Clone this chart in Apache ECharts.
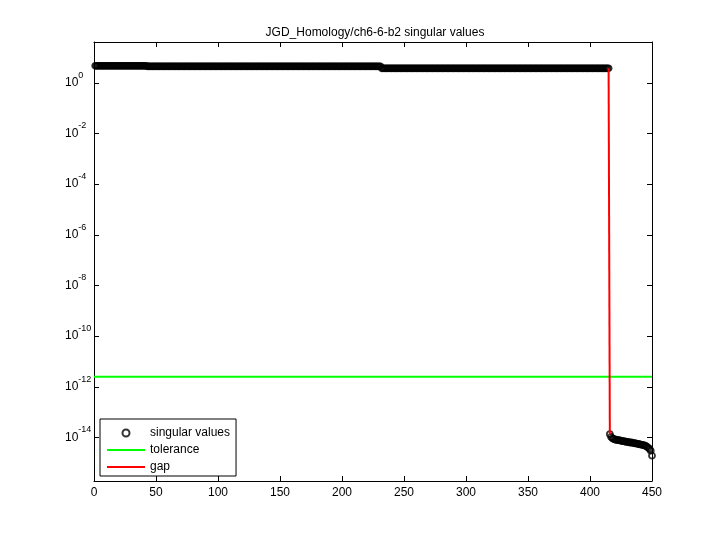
<!DOCTYPE html>
<html>
<head>
<meta charset="utf-8">
<script src="https://cdn.jsdelivr.net/npm/echarts@6/dist/echarts.min.js"></script>
<style>
  html, body { margin: 0; padding: 0; background: #fff; }
  #chart { width: 720px; height: 540px; }
</style>
</head>
<body>
<div id="chart"></div>
<script>
// large singular values: runs of [last index, value] (1-based index)
const plateauRuns = [
  [42, 4.69],
  [231, 4.45],
  [415, 3.71]
]
// small singular values, index 416..450
const tailStart = 416
const tailValues = [
  1.35e-14, 1.05e-14, 9.3e-15, 8.7e-15, 8.3e-15, 8.1e-15, 7.9e-15, 7.8e-15,
  7.6e-15, 7.4e-15, 7.2e-15, 7.1e-15, 6.9e-15, 6.8e-15, 6.6e-15, 6.5e-15,
  6.3e-15, 6.3e-15, 6.2e-15, 6.0e-15, 5.9e-15, 5.8e-15, 5.6e-15, 5.5e-15,
  5.4e-15, 5.2e-15, 5.1e-15, 5.0e-15, 4.8e-15, 4.6e-15, 4.3e-15, 3.9e-15,
  3.5e-15, 3.0e-15, 1.9e-15
]
const toleranceX = [0, 450]
const toleranceValue = 2.5e-12
const gapX = [415, 416]
const yTickExponents = [-14, -12, -10, -8, -6, -4, -2, 0]

const yMin = -15.72
const yMax = 1.61

// build [index, log10(value)] points
const svPoints = []
let idx = 1
plateauRuns.forEach(([last, v]) => {
  for (; idx <= last; idx++) svPoints.push([idx, Math.log10(v)])
})
tailValues.forEach((v, i) => svPoints.push([tailStart + i, Math.log10(v)]))

const tolPoints = toleranceX.map((x) => [x, Math.log10(toleranceValue)])
const gapPoints = [
  [gapX[0], Math.log10(plateauRuns[plateauRuns.length - 1][1])],
  [gapX[1], Math.log10(tailValues[0])]
]

const font = 'Liberation Sans, Arial, Helvetica, sans-serif'
const lineIcon = 'path://M0 0H38V2H0Z'

const chart = echarts.init(document.getElementById('chart'))

const baseX = {
  type: 'value',
  min: 0,
  max: 450,
  interval: 50,
  axisLine: { show: true, onZero: false, lineStyle: { color: '#000', width: 1 } },
  axisTick: { show: true, inside: true, length: 5, lineStyle: { color: '#000' } },
  splitLine: { show: false }
}
const baseY = {
  type: 'value',
  min: yMin,
  max: yMax,
  axisLine: { show: true, onZero: false, lineStyle: { color: '#000', width: 1 } },
  axisTick: {
    show: true, inside: true, length: 5, lineStyle: { color: '#000' },
    customValues: yTickExponents
  },
  splitLine: { show: false }
}

const option = {
  backgroundColor: '#fff',
  animation: false,
  title: {
    text: 'JGD_Homology/ch6-6-b2 singular values',
    left: 370,
    textAlign: 'center',
    top: 22,
    textStyle: { fontFamily: font, fontSize: 12, fontWeight: 'normal', color: '#000' }
  },
  grid: { left: 94, right: 68, top: 42, bottom: 59 },
  legend: {
    orient: 'vertical',
    left: 100,
    top: 419,
    itemWidth: 38,
    itemHeight: 7,
    itemGap: 3,
    padding: [7, 6, 2, 7],
    borderColor: '#000',
    borderWidth: 1,
    backgroundColor: '#fff',
    textStyle: { fontFamily: font, fontSize: 12, color: '#000', lineHeight: 14 },
    data: [
      { name: 'singular values', icon: 'circle' },
      { name: 'tolerance', icon: lineIcon },
      { name: 'gap', icon: lineIcon }
    ]
  },
  xAxis: [
    Object.assign({}, baseX, {
      position: 'bottom',
      axisLabel: { color: '#000', fontFamily: font, fontSize: 12, margin: 6 }
    }),
    Object.assign({}, baseX, { position: 'top', axisLabel: { show: false } })
  ],
  yAxis: [
    Object.assign({}, baseY, {
      position: 'left',
      axisLabel: {
        customValues: yTickExponents,
        margin: 29,
        align: 'left',
        formatter: (v) => '{b|10}{s|' + v + '}',
        rich: {
          b: { fontFamily: font, fontSize: 12, color: '#000', lineHeight: 24, verticalAlign: 'middle' },
          s: { fontFamily: font, fontSize: 9, color: '#000', lineHeight: 10, verticalAlign: 'top' }
        }
      }
    }),
    Object.assign({}, baseY, { position: 'right', axisLabel: { show: false } })
  ],
  series: [
    {
      name: 'singular values',
      type: 'scatter',
      data: svPoints,
      symbol: 'circle',
      symbolSize: 6,
      itemStyle: { color: 'rgba(255,255,255,0)', borderColor: '#000', borderWidth: 1.8 },
      silent: true
    },
    {
      name: 'tolerance',
      type: 'line',
      data: tolPoints,
      symbol: 'none',
      lineStyle: { color: '#00ff00', width: 2 },
      itemStyle: { color: '#00ff00' }
    },
    {
      name: 'gap',
      type: 'line',
      data: gapPoints,
      symbol: 'none',
      lineStyle: { color: '#ff0000', width: 2 },
      itemStyle: { color: '#ff0000' }
    }
  ]
}

chart.setOption(option)
</script>
</body>
</html>
